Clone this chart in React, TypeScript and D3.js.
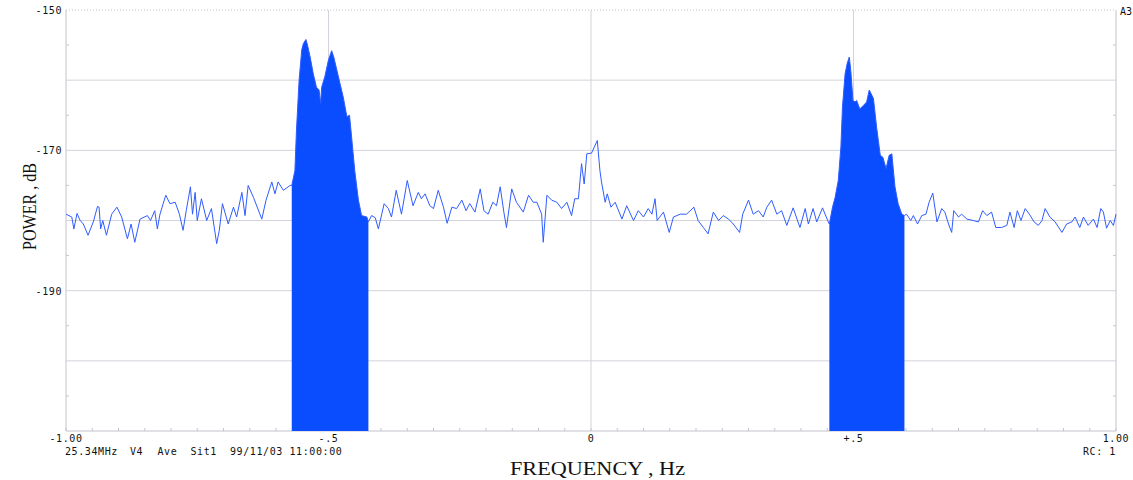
import React, { useEffect, useRef } from "react";
import * as d3 from "d3";

// spectrum (frequency in Hz, power in dB)
const freqHz = [
  -1.0, -0.989, -0.985, -0.979, -0.973, -0.967, -0.958, -0.948, -0.94, -0.937,
  -0.934, -0.93, -0.923, -0.913, -0.903, -0.894, -0.883, -0.876, -0.869, -0.859,
  -0.845, -0.839, -0.831, -0.826, -0.821, -0.81, -0.802, -0.792, -0.784, -0.777,
  -0.771, -0.763, -0.759, -0.754, -0.75, -0.742, -0.732, -0.723, -0.713, -0.708,
  -0.702, -0.691, -0.681, -0.675, -0.665, -0.659, -0.653, -0.643, -0.627, -0.619,
  -0.608, -0.602, -0.596, -0.586, -0.573,
  -0.57, -0.564, -0.561, -0.556, -0.551, -0.548, -0.543, -0.54, -0.535, -0.529,
  -0.523, -0.518, -0.515, -0.513, -0.507, -0.5, -0.494, -0.49, -0.484, -0.478,
  -0.472, -0.465, -0.46, -0.456, -0.45, -0.443, -0.437, -0.427, -0.424,
  -0.418, -0.411, -0.405, -0.394, -0.386, -0.38, -0.371, -0.361, -0.35, -0.339,
  -0.329, -0.323, -0.316, -0.307, -0.3, -0.291, -0.281, -0.274, -0.265, -0.256,
  -0.246, -0.238, -0.231, -0.221, -0.211, -0.204, -0.196, -0.187, -0.18, -0.173,
  -0.166, -0.161, -0.151, -0.142, -0.129, -0.119, -0.11, -0.103, -0.094, -0.091,
  -0.084, -0.075, -0.065, -0.056, -0.046, -0.037, -0.031, -0.024, -0.018, -0.013,
  -0.008, 0.001, 0.012,
  0.017, 0.02, 0.027, 0.031, 0.038, 0.046, 0.059, 0.068, 0.081, 0.09,
  0.1, 0.109, 0.116, 0.122, 0.126, 0.138, 0.149, 0.157, 0.17, 0.182,
  0.196, 0.204, 0.214, 0.223, 0.233, 0.243, 0.252, 0.262, 0.271, 0.283,
  0.289, 0.3, 0.309, 0.319, 0.328, 0.335, 0.344, 0.354, 0.363, 0.373,
  0.385, 0.398, 0.408, 0.414, 0.423, 0.43, 0.441, 0.452,
  0.454, 0.46, 0.465, 0.471, 0.476, 0.479, 0.484, 0.488, 0.492, 0.495,
  0.499, 0.503, 0.506, 0.512, 0.519, 0.525, 0.53, 0.538, 0.544, 0.551,
  0.556, 0.562, 0.568, 0.573, 0.579, 0.585, 0.592, 0.597,
  0.601, 0.609, 0.614, 0.622, 0.63, 0.638, 0.644, 0.651, 0.659, 0.668,
  0.674, 0.681, 0.687, 0.691, 0.7, 0.706, 0.716, 0.728, 0.738, 0.746,
  0.754, 0.763, 0.771, 0.782, 0.792, 0.798, 0.806, 0.812, 0.819, 0.827,
  0.835, 0.844, 0.852, 0.859, 0.865, 0.874, 0.884, 0.897, 0.906, 0.916,
  0.922, 0.931, 0.938, 0.947, 0.957, 0.964, 0.971, 0.976, 0.982, 0.989,
  0.995, 1.0,
];

const powerDb = [
  -179.1, -179.5, -181.2, -179.0, -180.0, -180.5, -182.1, -180.2, -178.0, -178.1,
  -181.2, -180.0, -182.1, -179.1, -178.1, -179.5, -182.6, -180.5, -183.1, -179.8,
  -179.3, -180.0, -178.6, -181.2, -179.1, -176.4, -177.6, -177.4, -179.1, -181.4,
  -178.6, -175.2, -179.1, -176.0, -180.0, -176.9, -180.0, -178.3, -183.3, -181.4,
  -177.6, -180.5, -178.1, -179.5, -176.0, -179.3, -175.0, -176.7, -179.8, -177.1,
  -174.5, -176.2, -174.5, -175.7, -175.0,
  -175.0, -172.9, -167.1, -160.0, -155.7, -154.8, -154.2, -155.0, -156.7, -159.1,
  -161.0, -161.4, -163.3, -161.0, -159.5, -157.1, -155.8, -156.7, -158.6, -160.5,
  -162.4, -165.2, -165.0, -168.1, -172.9, -177.1, -179.3, -179.5, -180.2,
  -179.3, -179.6, -181.2, -177.6, -178.3, -179.5, -175.7, -179.1, -174.3, -177.9,
  -176.0, -176.9, -176.2, -177.9, -178.3, -175.7, -178.1, -180.4, -178.1, -178.3,
  -177.1, -178.6, -177.6, -178.8, -175.5, -178.6, -179.1, -177.4, -177.9, -175.2,
  -178.8, -181.0, -175.5, -177.4, -178.8, -176.4, -177.4, -177.4, -179.1, -183.1,
  -176.4, -177.1, -177.4, -178.3, -177.4, -179.3, -176.9, -176.9, -171.9, -174.8,
  -170.5, -170.4, -168.6,
  -172.9, -174.5, -177.4, -176.2, -178.1, -177.4, -179.8, -177.9, -180.0, -178.6,
  -179.5, -178.3, -179.1, -176.9, -180.0, -178.8, -181.7, -179.5, -179.1, -179.1,
  -178.1, -180.0, -181.0, -181.9, -178.8, -180.0, -179.3, -179.8, -180.5, -181.7,
  -179.1, -177.1, -179.1, -178.6, -179.5, -178.1, -177.1, -179.1, -178.6, -180.7,
  -178.2, -181.0, -178.3, -180.5, -178.3, -180.2, -178.2, -180.2,
  -180.5, -178.1, -176.7, -174.3, -169.5, -163.8, -159.1, -157.6, -156.7, -158.8,
  -162.9, -163.1, -162.9, -164.1, -163.6, -163.1, -161.4, -162.6, -166.7, -170.7,
  -171.0, -172.6, -170.7, -170.5, -175.2, -177.6, -179.1, -179.3,
  -179.1, -180.0, -179.3, -180.5, -179.3, -179.1, -177.4, -176.1, -180.2, -178.3,
  -178.8, -180.5, -181.7, -178.6, -179.5, -179.1, -179.8, -180.0, -180.2, -178.6,
  -179.3, -178.8, -181.0, -181.0, -180.7, -178.8, -181.0, -178.6, -180.0, -178.3,
  -179.1, -180.2, -180.7, -180.0, -178.3, -179.5, -180.2, -181.7, -180.5, -180.2,
  -179.5, -181.0, -179.5, -180.7, -179.8, -181.0, -178.3, -178.8, -181.1, -180.0,
  -180.7, -179.1,
];

// filled bands (Doppler lines)
const bandLo = [-0.572, 0.453];
const bandHi = [-0.423, 0.598];

const xTickValues = [-1, -0.5, 0, 0.5, 1];
const xTickLabels = ["-1.00", "-.5", "0", "+.5", "1.00"];
const yLabelValues = [-150, -170, -190];
const yGridValues = [-160, -170, -180, -190, -200];

const infoTokens = ["25.34MHz", "V4", "Ave", "Sit1", "99/11/03", "11:00:00"];
const infoX = [65, 130, 157.5, 190.5, 230, 289.5];

const W = 1133;
const H = 480;

const App: React.FC = () => {
  const svgRef = useRef<SVGSVGElement | null>(null);

  useEffect(() => {
    if (!svgRef.current) return;
    const svg = d3.select(svgRef.current);
    svg.selectAll("*").remove();

    const margin = { top: 10, right: 17, bottom: 49, left: 66 };
    const x = d3
      .scaleLinear()
      .domain([-1, 1])
      .range([margin.left, W - margin.right]);
    const y = d3
      .scaleLinear()
      .domain([-210, -150])
      .range([H - margin.bottom, margin.top]);

    const gridColor = "#d3d3db";
    const frameColor = "#c4c4cc";
    const mono = "'DejaVu Sans Mono', monospace";
    const serif = "'Liberation Serif', 'DejaVu Serif', serif";

    svg.append("rect").attr("width", W).attr("height", H).attr("fill", "#fff");

    // horizontal grid
    svg
      .append("g")
      .selectAll("line")
      .data(yGridValues)
      .enter()
      .append("line")
      .attr("x1", x(-1))
      .attr("x2", x(1))
      .attr("y1", (d) => y(d))
      .attr("y2", (d) => y(d))
      .attr("stroke", gridColor);

    // vertical grid
    svg
      .append("g")
      .selectAll("line")
      .data([-0.5, 0, 0.5])
      .enter()
      .append("line")
      .attr("x1", (d) => x(d))
      .attr("x2", (d) => x(d))
      .attr("y1", y(-150))
      .attr("y2", y(-210))
      .attr("stroke", gridColor);

    // frame
    svg
      .append("line")
      .attr("x1", x(-1))
      .attr("x2", x(1))
      .attr("y1", y(-150))
      .attr("y2", y(-150))
      .attr("stroke", frameColor)
      .attr("stroke-dasharray", "1,2");
    svg
      .append("path")
      .attr(
        "d",
        `M${x(-1)},${y(-150)}V${y(-210)}H${x(1)}V${y(-150)}`
      )
      .attr("fill", "none")
      .attr("stroke", frameColor);

    // minor ticks
    const xMinor = d3.range(-20, 21).map((i) => i * 0.05);
    svg
      .append("g")
      .selectAll("line")
      .data(xMinor)
      .enter()
      .append("line")
      .attr("x1", (d) => x(d))
      .attr("x2", (d) => x(d))
      .attr("y1", y(-210))
      .attr("y2", y(-210) - 3)
      .attr("stroke", frameColor);
    const yMinor = d3.range(-205, -150, 10);
    [x(-1), x(1)].forEach((px, i) => {
      svg
        .append("g")
        .selectAll("line")
        .data(yMinor)
        .enter()
        .append("line")
        .attr("x1", px)
        .attr("x2", i === 0 ? px + 3 : px - 3)
        .attr("y1", (d) => y(d))
        .attr("y2", (d) => y(d))
        .attr("stroke", frameColor);
    });

    const pts = freqHz.map((f, i) => [f, powerDb[i]] as [number, number]);

    // filled bands
    const area = d3
      .area<[number, number]>()
      .x((d) => x(d[0]))
      .y0(y(-210))
      .y1((d) => y(d[1]));
    bandLo.forEach((lo, i) => {
      const seg = pts.filter((p) => p[0] >= lo && p[0] <= bandHi[i]);
      svg
        .append("path")
        .datum(seg)
        .attr("d", area)
        .attr("fill", "#0a4dff");
    });

    // spectrum line
    const line = d3
      .line<[number, number]>()
      .x((d) => x(d[0]))
      .y((d) => y(d[1]));
    svg
      .append("path")
      .datum(pts)
      .attr("d", line)
      .attr("fill", "none")
      .attr("stroke", "#2f5cff")
      .attr("stroke-width", 1);

    // y labels
    svg
      .append("g")
      .selectAll("text")
      .data(yLabelValues)
      .enter()
      .append("text")
      .attr("x", 62)
      .attr("y", (d) => y(d) + 4)
      .attr("text-anchor", "end")
      .attr("font-family", mono)
      .attr("font-size", 10)
      .attr("letter-spacing", 0.6)
      .attr("fill", "#111")
      .text((d) => `${d}`);

    // x labels
    svg
      .append("g")
      .selectAll("text")
      .data(xTickValues)
      .enter()
      .append("text")
      .attr("x", (d) => x(d))
      .attr("y", 442)
      .attr("text-anchor", "middle")
      .attr("font-family", mono)
      .attr("font-size", 10)
      .attr("letter-spacing", 0.6)
      .attr("fill", "#111")
      .text((_, i) => xTickLabels[i]);

    // info line
    svg
      .append("g")
      .selectAll("text")
      .data(infoTokens)
      .enter()
      .append("text")
      .attr("x", (_, i) => infoX[i])
      .attr("y", 455)
      .attr("font-family", mono)
      .attr("font-size", 10)
      .attr("letter-spacing", 0.6)
      .attr("fill", "#111")
      .text((d) => d);

    svg
      .append("text")
      .attr("x", 1116)
      .attr("y", 455)
      .attr("text-anchor", "end")
      .attr("font-family", mono)
      .attr("font-size", 10)
      .attr("letter-spacing", 0.6)
      .attr("fill", "#111")
      .text("RC: 1");

    svg
      .append("text")
      .attr("x", 1120)
      .attr("y", 15)
      .attr("font-family", mono)
      .attr("font-size", 10)
      .attr("fill", "#111")
      .text("A3");

    // axis titles
    svg
      .append("text")
      .attr("x", 510)
      .attr("y", 475)
      .attr("font-family", serif)
      .attr("font-size", 18)
      .attr("textLength", 175)
      .attr("lengthAdjust", "spacingAndGlyphs")
      .attr("fill", "#111")
      .text("FREQUENCY , Hz");

    svg
      .append("text")
      .attr("transform", "translate(36,206.5) rotate(-90)")
      .attr("text-anchor", "middle")
      .attr("font-family", serif)
      .attr("font-size", 18)
      .attr("textLength", 87)
      .attr("lengthAdjust", "spacingAndGlyphs")
      .attr("fill", "#111")
      .text("POWER , dB");
  }, []);

  return (
    <div style={{ position: "absolute", left: 0, top: 0 }}>
      <svg ref={svgRef} width={W} height={H} style={{ display: "block" }}></svg>
    </div>
  );
};

export default App;
